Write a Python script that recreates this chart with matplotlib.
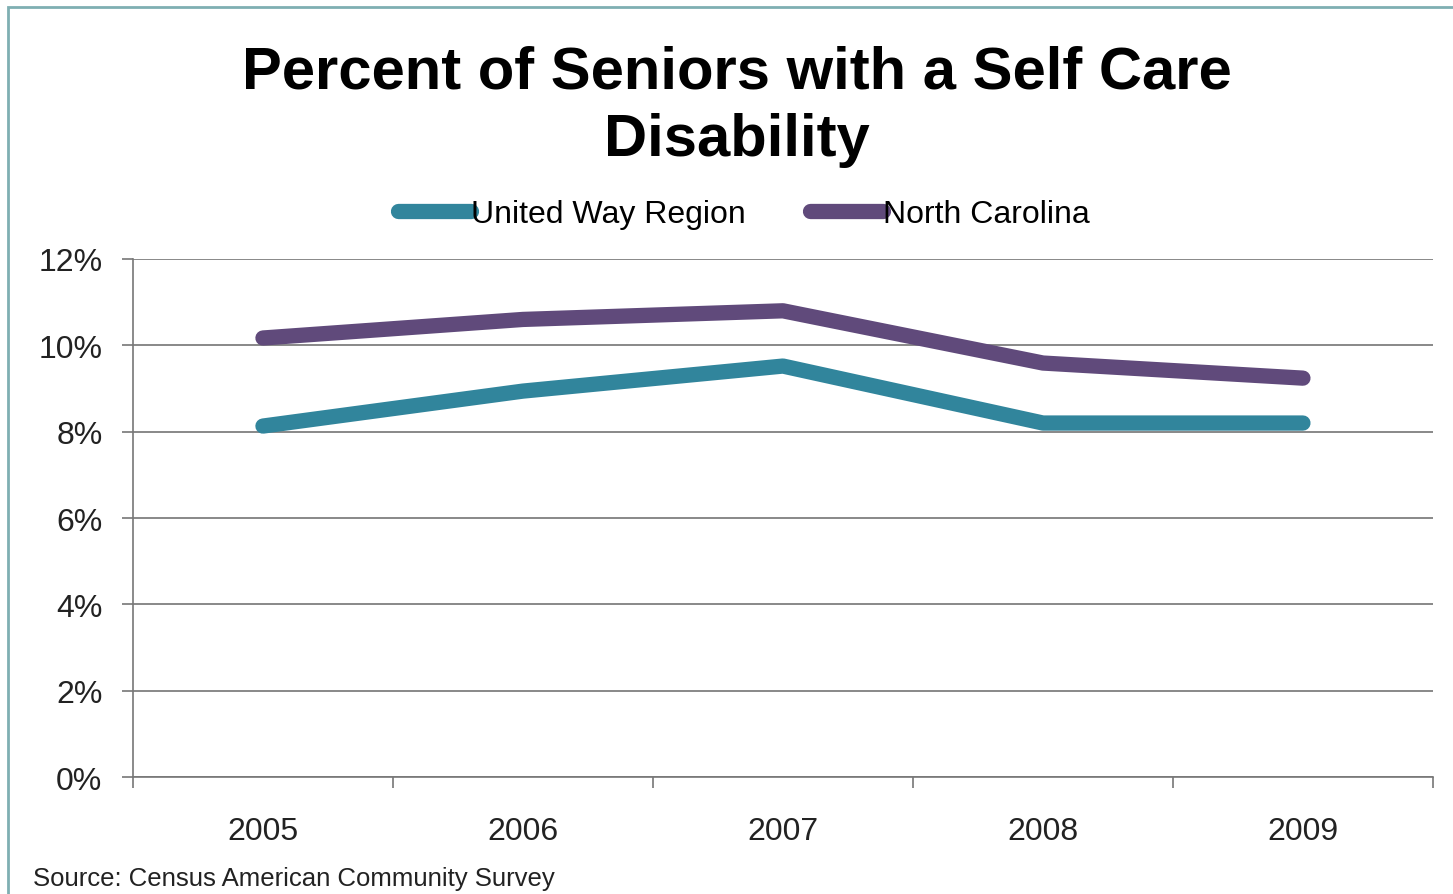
import matplotlib.pyplot as plt
from matplotlib.patches import Rectangle

years = ['2005', '2006', '2007', '2008', '2009']
united_way = [8.13, 8.94, 9.52, 8.2, 8.2]
north_carolina = [10.17, 10.6, 10.8, 9.59, 9.24]
y_ticks = [0, 2, 4, 6, 8, 10, 12]

plt.rcParams['font.family'] = ['Liberation Sans', 'DejaVu Sans']

fig = plt.figure(figsize=(14.53, 8.95), dpi=100)
ax = fig.add_axes([0.0915, 0.1307, 0.8947, 0.5788])

x = list(range(len(years)))
ax.plot(x, united_way, color='#31859C', lw=11, solid_capstyle='round',
        solid_joinstyle='round', label='United Way Region', zorder=3)
ax.plot(x, north_carolina, color='#604A7B', lw=11, solid_capstyle='round',
        solid_joinstyle='round', label='North Carolina', zorder=3)

ax.set_xlim(-0.5, len(years) - 0.5)
ax.set_ylim(0, 12)
ax.set_yticks(y_ticks)
ax.set_yticklabels([f'{v}%' for v in y_ticks], fontsize=23, color='#222222')
ax.set_xticks(x)
ax.set_xticklabels(years, fontsize=23, color='#222222')
ax.set_xticks([i - 0.5 for i in range(len(years) + 1)], minor=True)
ax.tick_params(axis='x', which='major', length=0, pad=28)
ax.tick_params(axis='x', which='minor', length=8, width=1.2, color='#777777')
ax.tick_params(axis='y', length=8, width=1.2, color='#777777', pad=14)

ax.grid(axis='y', color='#888888', lw=1.4)
ax.set_axisbelow(True)
for s in ['top', 'right']:
    ax.spines[s].set_visible(False)
ax.spines['left'].set_color('#777777')
ax.spines['bottom'].set_color('#777777')
ax.spines['left'].set_linewidth(1.2)
ax.spines['bottom'].set_linewidth(1.2)

fig.text(0.507, 0.918, 'Percent of Seniors with a Self Care', ha='center',
         va='center', fontsize=43, fontweight='bold')
fig.text(0.507, 0.843, 'Disability', ha='center', va='center',
         fontsize=43, fontweight='bold')

fig.legend(loc='center', bbox_to_anchor=(0.512, 0.76), ncol=2, frameon=False,
           fontsize=23, handlelength=2.3, handletextpad=0.0, columnspacing=2.0)

fig.text(0.023, 0.018, 'Source: Census American Community Survey',
         fontsize=18.5, color='#222222', ha='left', va='center')

fig.patches.append(Rectangle((0.0055, -0.05), 1.2, 1.041, transform=fig.transFigure,
                             fill=False, ec='#7FAFB2', lw=2))

fig.savefig('out.png', dpi=100)
